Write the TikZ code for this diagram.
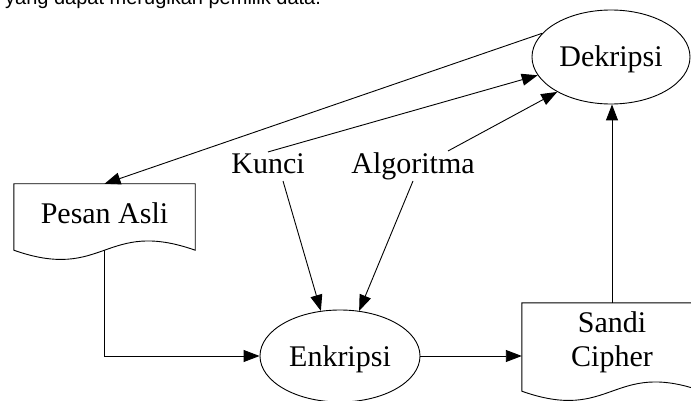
\documentclass[tikz,border=0pt]{standalone}
\usepackage{fontspec}
\setmainfont{Liberation Serif}
\newfontfamily\topfont{Liberation Sans}
\usetikzlibrary{shapes.geometric,arrows.meta,calc}
\newcommand\docoutline[1]{\draw[docline] (#1.south west) .. controls ($(#1.south)+(0,32)$) and ($(#1.south)+(0,-32)$) .. (#1.south east) -- (#1.north east) -- (#1.north west) -- cycle;}
\begin{document}
\begin{tikzpicture}[x=1pt,y=-1pt,
  lbl/.style={font=\fontsize{30}{34}\selectfont, inner sep=0pt},
  ell/.style={ellipse, draw, line width=0.9pt, lbl, text height=20pt, text depth=0pt},
  docnode/.style={lbl},
  word/.style={font=\fontsize{30}{34}\selectfont, inner sep=2pt, anchor=base},
  conn/.style={line width=0.9pt, -{Triangle[length=16pt,width=12pt]}},
  docline/.style={line width=0.9pt}]
\fill[white] (0,0) rectangle (691,401);
\useasboundingbox (0,0) rectangle (691,401);
\node[anchor=base west, inner sep=0pt, font=\topfont\fontsize{20}{24}\selectfont] (top) at (5,5) {yang dapat merugikan pemilik data.};
\node[ell, minimum width=158pt, minimum height=94pt] (dek) at (611,57) {Dekripsi};
\node[ell, minimum width=160pt, minimum height=92pt] (enk) at (340,356) {Enkripsi};
\node[docnode, minimum width=181pt, text height=39pt, text depth=27pt] (pesan) at (104.5,217) {Pesan Asli};
\node[docnode, align=center, minimum width=180pt, text height=63pt, text depth=25pt] (sandi) at (612,347) {Sandi\\Cipher};
\docoutline{pesan}
\docoutline{sandi}
\node[word] (kunci) at (268,174) {Kunci};
\node[word] (algo) at (413,174) {Algoritma};
\draw[conn] (dek.161) -- (pesan.north);
\draw[conn] (kunci.north) -- (dek.194);
\draw[conn] ($(algo.north)+(35,0)$) -- (dek.213);
\draw[conn] ($(kunci.base)+(15,7)$) -- (enk.113);
\draw[conn] ($(algo.base)+(0,7)$) -- (enk.67);
\draw[conn] (pesan.south) |- (enk.west);
\draw[conn] (enk.east) -- (enk.east -| sandi.west);
\draw[conn] (sandi.north) -- (sandi.north |- dek.south);
\end{tikzpicture}
\end{document}
